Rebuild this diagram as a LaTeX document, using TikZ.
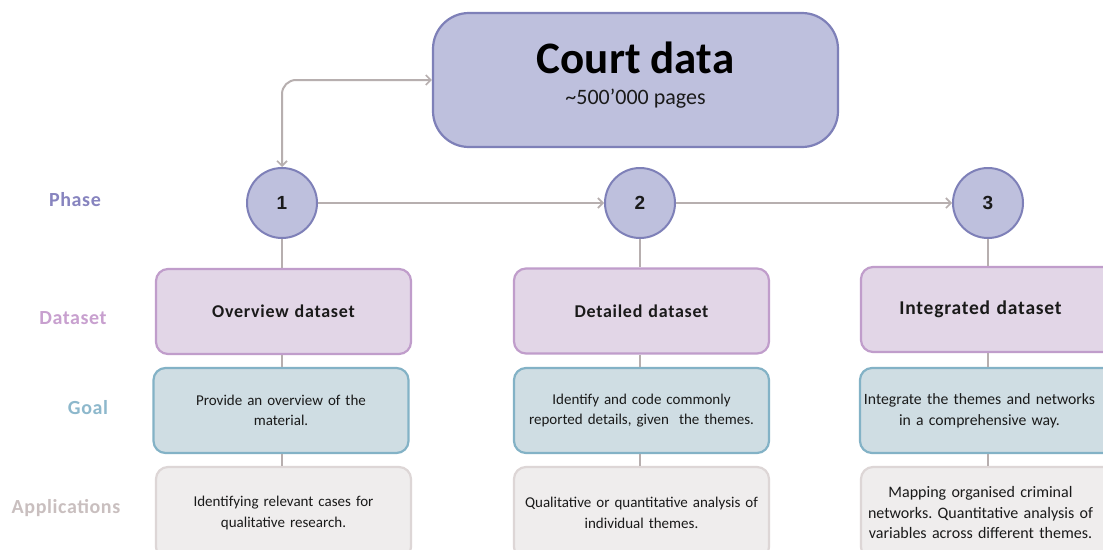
\documentclass[tikz,border=0pt]{standalone}
\usepackage{fontspec}
\setmainfont{Carlito}
\newfontfamily\numfont{Liberation Sans}
\newfontfamily\spacedfont[LetterSpace=4]{Carlito}
\newfontfamily\labelfont[LetterSpace=3]{Carlito}
\usetikzlibrary{arrows.meta}
\frenchspacing
\definecolor{courtfill}{HTML}{BEC0DD}
\definecolor{courtline}{HTML}{7E80B8}
\definecolor{dsfill}{HTML}{E2D6E7}
\definecolor{dsline}{HTML}{C09DCB}
\definecolor{goalfill}{HTML}{CFDDE3}
\definecolor{goalline}{HTML}{83B2C6}
\definecolor{appfill}{HTML}{EFEDED}
\definecolor{appline}{HTML}{DDD6D6}
\definecolor{conncol}{HTML}{B7AFAF}
\definecolor{txt}{HTML}{1A1A1A}
\definecolor{phasecol}{HTML}{8784BF}
\definecolor{datasetcol}{HTML}{C8A0CF}
\definecolor{goalcol}{HTML}{8DB8CC}
\definecolor{appcol}{HTML}{C9BFBF}
\newcommand\shl[1]{#1\hbox to 16pt{}}
\tikzset{
  box/.style={rounded corners=12pt, line width=2.2pt, minimum width=255pt,
    minimum height=85pt, text width=250pt, align=center, inner sep=2.5pt,
    text=txt, font=\frenchspacing\fontsize{15}{20.5}\selectfont},
  dsbox/.style={box, fill=dsfill, draw=dsline,
    font=\spacedfont\bfseries\fontsize{18}{22}\selectfont},
  goalbox/.style={box, fill=goalfill, draw=goalline},
  appbox/.style={box, fill=appfill, draw=appline, minimum height=92pt},
  phasecirc/.style={circle, minimum size=70pt, inner sep=0pt, line width=2pt,
    fill=courtfill, draw=courtline, text=txt,
    font=\numfont\bfseries\fontsize{19}{19}\selectfont},
  conn/.style={draw=conncol, line width=2pt},
  barb/.tip={Straight Barb[length=5pt,width=10pt,line width=1.6pt]},
  tip/.style={-barb},
  rowlabel/.style={font=\labelfont\bfseries\fontsize{20}{20}\selectfont, inner sep=0pt}
}
\begin{document}
\begin{tikzpicture}[x=1pt,y=-1pt]
\clip (0,0) rectangle (1103,549);
\fill[white] (0,0) rectangle (1103,549);

% court data
\node[rounded corners=36pt, line width=2.2pt, fill=courtfill, draw=courtline,
  minimum width=405pt, minimum height=134pt] (court) at (635.5,80) {};
\node[anchor=base, inner sep=0pt, text=black, font=\bfseries\fontsize{45}{45}\selectfont]
  (courttitle) at (635.5,73) {Court data};
\node[anchor=base, inner sep=0pt, text=txt, font=\fontsize{22}{22}\selectfont]
  (courtsub) at (635.5,104) {\char"007E 500’000 pages};

% phases
\node[phasecirc] (c1) at (282,203) {1};
\node[phasecirc] (c2) at (640,203) {2};
\node[phasecirc] (c3) at (988,203) {3};

% dataset boxes
\node[dsbox] (ds1) at (283.5,311.5) {Overview dataset};
\node[dsbox] (ds2) at (641.5,311) {Detailed dataset};
\node[dsbox, font=\spacedfont\bfseries\fontsize{19.5}{23}\selectfont] (ds3) at (988.5,309.5) {\shl{Integrated dataset}};

% goal boxes
\node[goalbox] (g1) at (281,410.5) {Provide an overview of the\\material.};
\node[goalbox] (g2) at (641.5,410.5) {Identify and code commonly\\reported details, given\ \ the themes.};
\node[goalbox, font=\frenchspacing\fontsize{15.7}{21}\selectfont] (g3) at (987.5,410.5) {\shl{Integrate the themes and networks}\\\shl{in a comprehensive way.}};

% application boxes
\node[appbox] (a1) at (283.5,513) {Identifying relevant cases for\\qualitative research.};
\node[appbox] (a2) at (641.5,513) {Qualitative or quantitative analysis of\\individual themes.};
\node[appbox, font=\frenchspacing\fontsize{16}{20.5}\selectfont] (a3) at (988.5,513) {\shl{Mapping organised criminal}\\\shl{networks. Quantitative analysis of}\\\shl{variables across different themes.}};

% row labels
\node[rowlabel, text=phasecol] (lphase) at (75,200) {Phase};
\node[rowlabel, text=datasetcol] (ldataset) at (73,318) {Dataset};
\node[rowlabel, text=goalcol] (lgoal) at (88,408) {Goal};
\node[rowlabel, text=appcol] (lapp) at (66,508) {Applications};

% connectors
\draw[conn, barb-barb, rounded corners=14pt] (court.west) -| (c1.north);
\draw[conn, tip] (c1) -- (c2);
\draw[conn, tip] (c2) -- (c3);
\foreach \c/\d/\g/\a in {c1/ds1/g1/a1, c2/ds2/g2/a2, c3/ds3/g3/a3}{
  \draw[conn] (\c.south) -- (\c.south |- \d.north);
  \draw[conn] (\c.south |- \d.south) -- (\c.south |- \g.north);
  \draw[conn] (\c.south |- \g.south) -- (\c.south |- \a.north);
}
\end{tikzpicture}
\end{document}
